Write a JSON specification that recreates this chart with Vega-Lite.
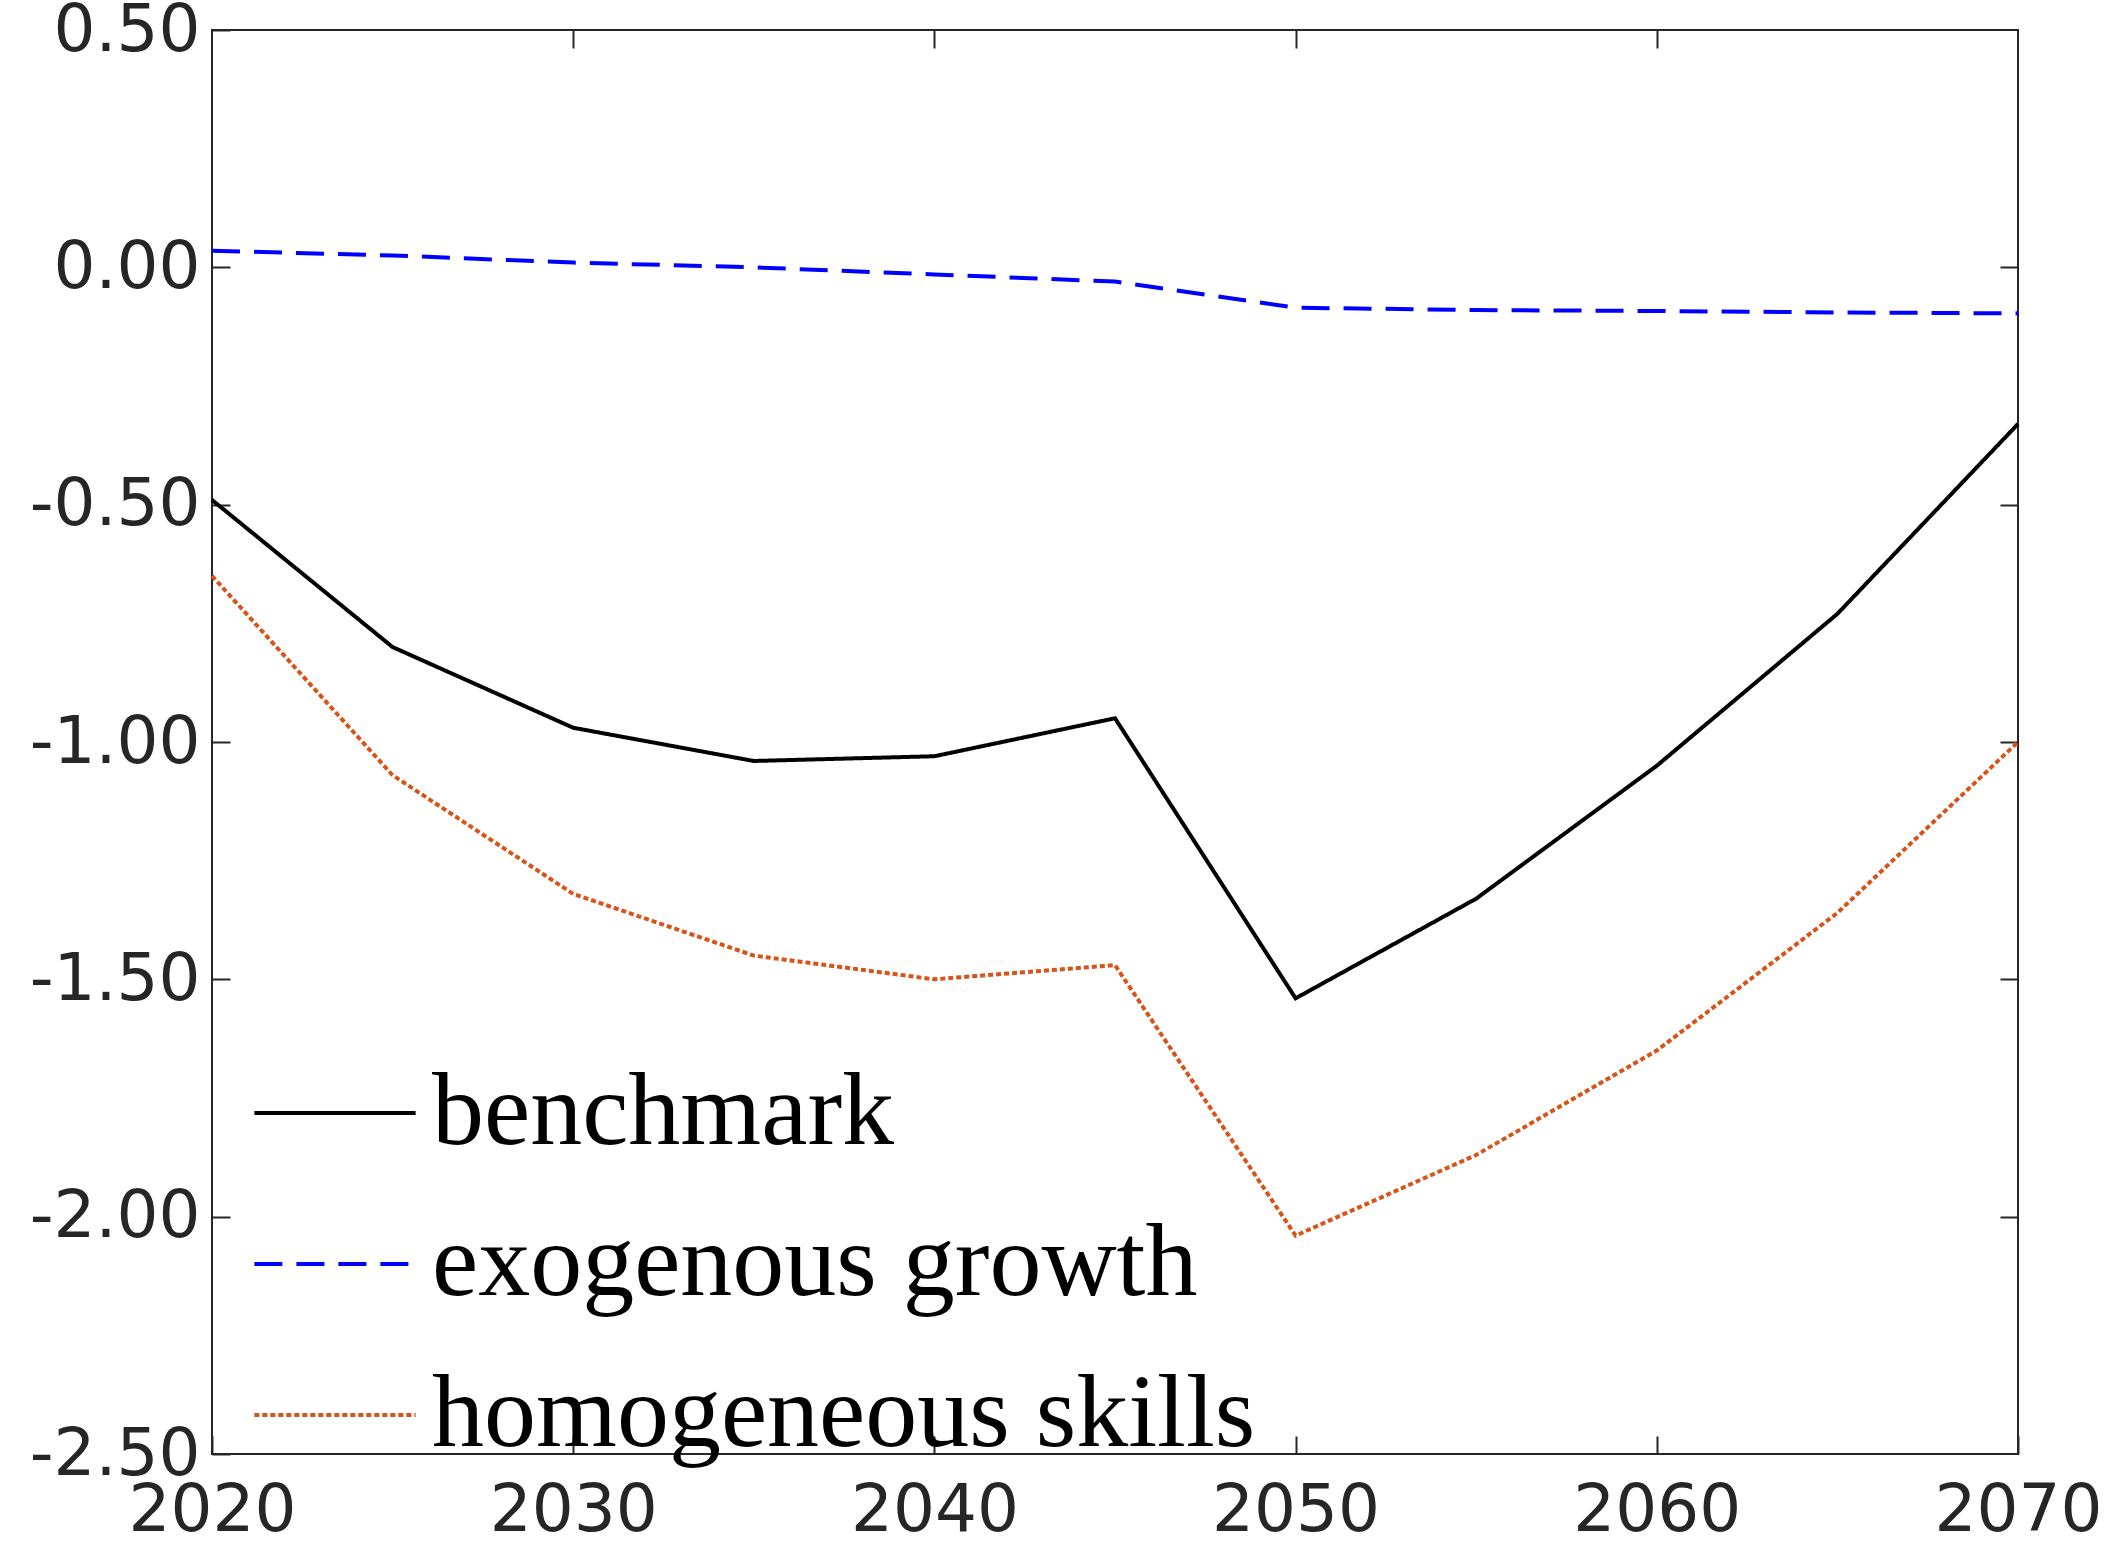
{
  "$schema": "https://vega.github.io/schema/vega-lite/v6.json",
  "width": 1806,
  "height": 1424,
  "autosize": {"type": "none"},
  "padding": {"left": 212, "top": 30, "right": 91, "bottom": 100},
  "background": "white",
  "config": {
    "view": {"stroke": "#262626", "strokeWidth": 2},
    "axis": {"labelFont": "DejaVu Sans", "labelFontSize": 66, "labelColor": "#262626", "labelLimit": 400, "domain": false, "grid": false, "tickColor": "#262626", "tickWidth": 2, "tickSize": -18, "title": null}
  },
  "data": {"values": [
    {"year": 2020, "s": "benchmark", "v": -0.49}, {"year": 2025, "s": "benchmark", "v": -0.80}, {"year": 2030, "s": "benchmark", "v": -0.97}, {"year": 2035, "s": "benchmark", "v": -1.04}, {"year": 2040, "s": "benchmark", "v": -1.03}, {"year": 2045, "s": "benchmark", "v": -0.95}, {"year": 2050, "s": "benchmark", "v": -1.54}, {"year": 2055, "s": "benchmark", "v": -1.33}, {"year": 2060, "s": "benchmark", "v": -1.05}, {"year": 2065, "s": "benchmark", "v": -0.73}, {"year": 2070, "s": "benchmark", "v": -0.33},
    {"year": 2020, "s": "exogenous growth", "v": 0.035}, {"year": 2025, "s": "exogenous growth", "v": 0.025}, {"year": 2030, "s": "exogenous growth", "v": 0.01}, {"year": 2035, "s": "exogenous growth", "v": 0.0}, {"year": 2040, "s": "exogenous growth", "v": -0.015}, {"year": 2045, "s": "exogenous growth", "v": -0.03}, {"year": 2050, "s": "exogenous growth", "v": -0.085}, {"year": 2055, "s": "exogenous growth", "v": -0.09}, {"year": 2060, "s": "exogenous growth", "v": -0.092}, {"year": 2065, "s": "exogenous growth", "v": -0.095}, {"year": 2070, "s": "exogenous growth", "v": -0.097},
    {"year": 2020, "s": "homogeneous skills", "v": -0.65}, {"year": 2025, "s": "homogeneous skills", "v": -1.07}, {"year": 2030, "s": "homogeneous skills", "v": -1.32}, {"year": 2035, "s": "homogeneous skills", "v": -1.45}, {"year": 2040, "s": "homogeneous skills", "v": -1.50}, {"year": 2045, "s": "homogeneous skills", "v": -1.47}, {"year": 2050, "s": "homogeneous skills", "v": -2.04}, {"year": 2055, "s": "homogeneous skills", "v": -1.87}, {"year": 2060, "s": "homogeneous skills", "v": -1.65}, {"year": 2065, "s": "homogeneous skills", "v": -1.36}, {"year": 2070, "s": "homogeneous skills", "v": -1.00}
  ]},
  "layer": [
    {
      "mark": {"type": "line", "strokeWidth": 4},
      "encoding": {
        "x": {"field": "year", "type": "quantitative", "scale": {"domain": [2020, 2070], "nice": false, "zero": false},
              "axis": {"values": [2020, 2030, 2040, 2050, 2060, 2070], "format": "d", "labelPadding": 42, "labelFlush": false}},
        "y": {"field": "v", "type": "quantitative", "scale": {"domain": [-2.5, 0.5], "nice": false},
              "axis": {"values": [-2.5, -2, -1.5, -1, -0.5, 0, 0.5], "labelExpr": "replace(format(datum.value, '.2f'), '\u2212', '-')", "labelPadding": 30, "labelFlush": false}},
        "color": {"field": "s", "type": "nominal",
                  "scale": {"domain": ["benchmark", "exogenous growth", "homogeneous skills"], "range": ["#000000", "#0000ff", "#d95319"]},
                  "legend": {"orient": "none", "legendX": 40, "legendY": 1000, "title": null, "symbolType": "stroke", "symbolSize": 26000, "symbolStrokeWidth": 4,
                             "labelFont": "Liberation Serif", "labelFontSize": 104, "labelColor": "#000000", "labelLimit": 1200, "rowPadding": 16, "labelOffset": 14, "symbolOffset": 0}},
        "strokeDash": {"field": "s", "type": "nominal",
                       "scale": {"domain": ["benchmark", "exogenous growth", "homogeneous skills"], "range": [[1, 0], [28, 14], [5, 3]]},
                       "legend": null}
      }
    },
    {
      "mark": {"type": "point", "opacity": 0},
      "encoding": {
        "x": {"field": "year", "type": "quantitative", "scale": {"domain": [2020, 2070], "nice": false, "zero": false},
              "axis": {"orient": "top", "values": [2030, 2040, 2050, 2060], "labels": false}},
        "y": {"field": "v", "type": "quantitative", "scale": {"domain": [-2.5, 0.5], "nice": false},
              "axis": {"orient": "right", "values": [-2, -1.5, -1, -0.5, 0], "labels": false}}
      }
    }
  ],
  "resolve": {"scale": {"x": "independent", "y": "independent"}}
}
